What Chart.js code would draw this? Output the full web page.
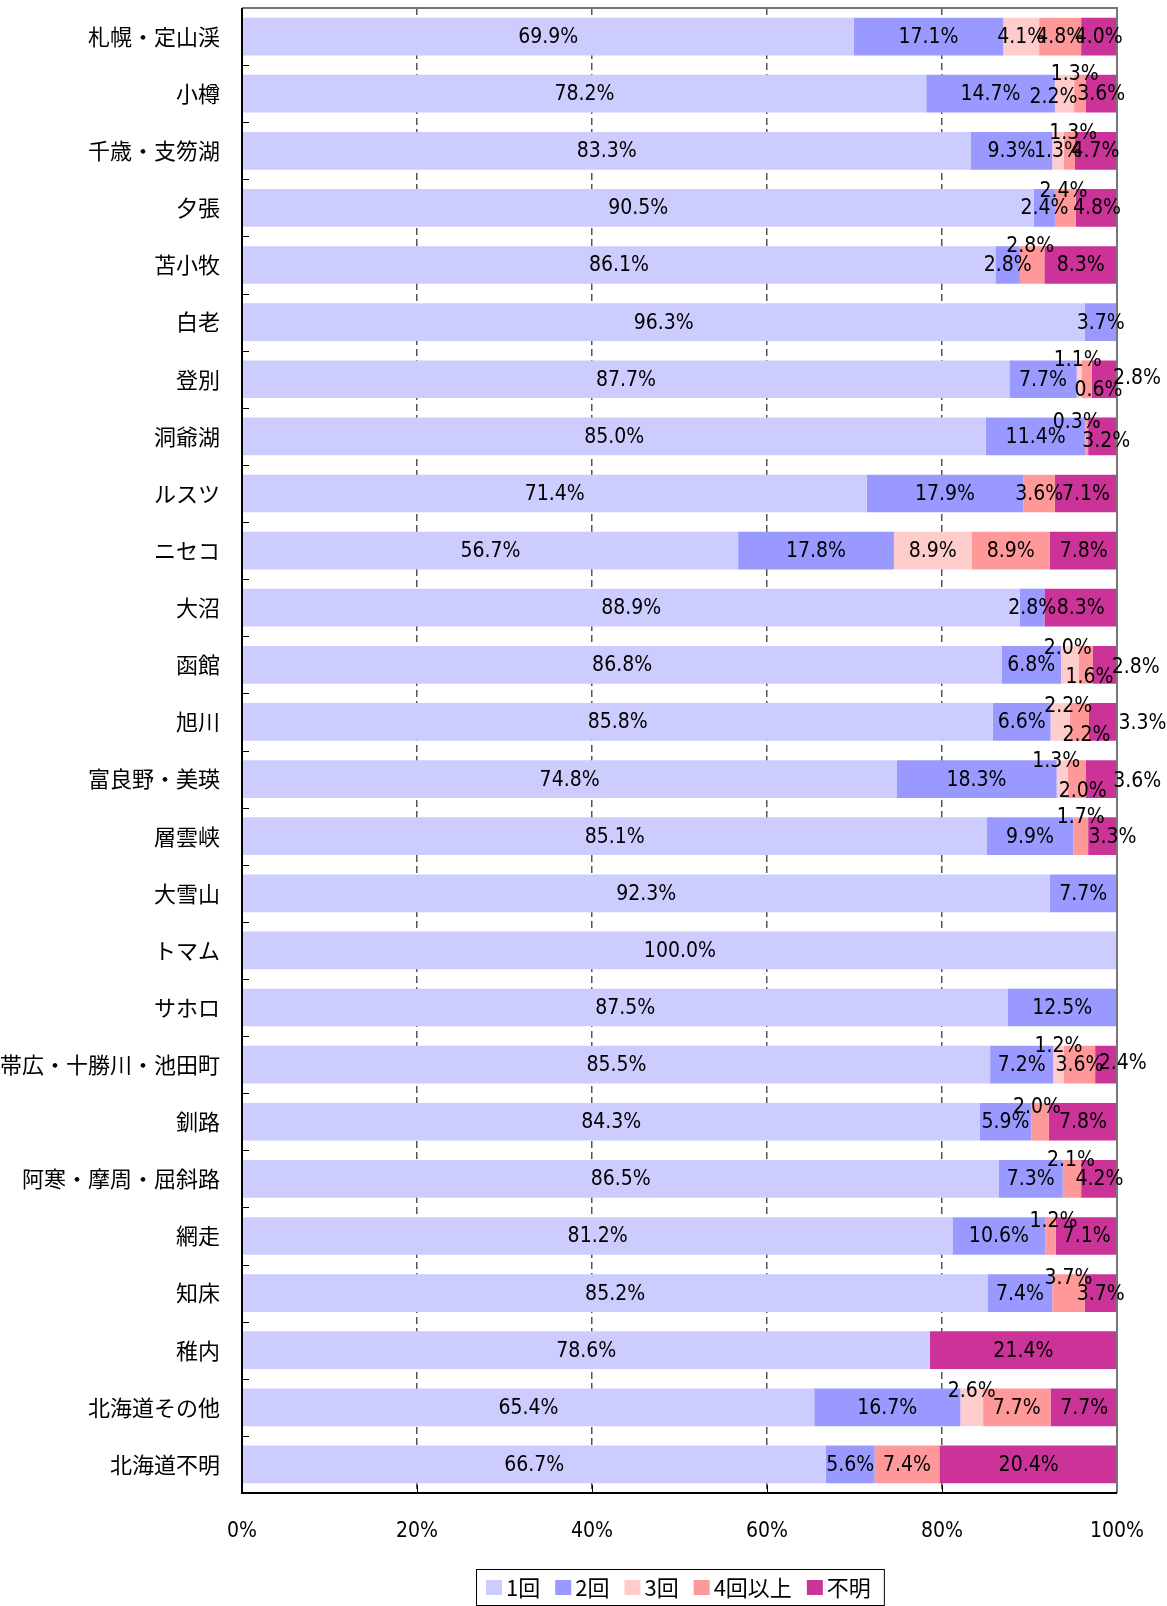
<!DOCTYPE html>
<html>
<head>
<meta charset="utf-8">
<script src="https://cdn.jsdelivr.net/npm/chart.js@4.4.1/dist/chart.umd.min.js"></script>
<style>
  body { margin: 0; background: #fff; }
  canvas { display: block; }
</style>
</head>
<body>
<canvas id="chart" width="1167" height="1606"></canvas>
<script>
const areas = ['札幌・定山渓', '小樽', '千歳・支笏湖', '夕張', '苫小牧', '白老', '登別', '洞爺湖', 'ルスツ', 'ニセコ',
  '大沼', '函館', '旭川', '富良野・美瑛', '層雲峡', '大雪山', 'トマム', 'サホロ', '帯広・十勝川・池田町', '釧路',
  '阿寒・摩周・屈斜路', '網走', '知床', '稚内', '北海道その他', '北海道不明']

const once = [69.9, 78.2, 83.3, 90.5, 86.1, 96.3, 87.7, 85.0, 71.4, 56.7, 88.9, 86.8, 85.8, 74.8, 85.1, 92.3, 100.0, 87.5, 85.5, 84.3, 86.5, 81.2, 85.2, 78.6, 65.4, 66.7]
const twice = [17.1, 14.7, 9.3, 2.4, 2.8, 3.7, 7.7, 11.4, 17.9, 17.8, 2.8, 6.8, 6.6, 18.3, 9.9, 7.7, 0, 12.5, 7.2, 5.9, 7.3, 10.6, 7.4, 0, 16.7, 5.6]
const three = [4.1, 2.2, 1.3, 0, 0, 0, 0.6, 0, 0, 8.9, 0, 2.0, 2.2, 1.3, 0, 0, 0, 0, 1.2, 0, 0, 0, 0, 0, 2.6, 0]
const fourPlus = [4.8, 1.3, 1.3, 2.4, 2.8, 0, 1.1, 0.3, 3.6, 8.9, 0, 1.6, 2.2, 2.0, 1.7, 0, 0, 0, 3.6, 2.0, 2.1, 1.2, 3.7, 0, 7.7, 7.4]
const unknown = [4.0, 3.6, 4.7, 4.8, 8.3, 0, 2.8, 3.2, 7.1, 7.8, 8.3, 2.8, 3.3, 3.6, 3.3, 0, 0, 0, 2.4, 7.8, 4.2, 7.1, 3.7, 21.4, 7.7, 20.4]

const seriesNames = ['1回', '2回', '3回', '4回以上', '不明']
const xTicks = [0, 20, 40, 60, 80, 100]

const colors = ['#CCCCFF', '#9999FF', '#FFCCCC', '#FF9999', '#CC3399']
const numFont = "21px 'Liberation Sans Narrow', 'DejaVu Sans Condensed', 'Noto Sans CJK JP', sans-serif"
const legendFont = "22px 'Liberation Sans Narrow', 'Noto Sans CJK JP', sans-serif"

// labels that were moved off their segment in the original (row:dataset -> dx, dy)
const labelShift = {
  '1:2': [-11, 3], '1:3': [-5, -20],
  '2:3': [4, -18],
  '3:3': [-2, -17],
  '4:3': [-2, -19],
  '6:2': [19, 10], '6:3': [-9, -20], '6:4': [33, -2],
  '7:3': [-10, -15], '7:4': [4, 4],
  '11:2': [-2, -17], '11:3': [4, 12], '11:4': [31, 2],
  '12:2': [8, -16], '12:3': [7, 13], '12:4': [39, 1],
  '13:2': [-6, -19], '13:3': [6, 11], '13:4': [36, 1],
  '14:3': [0, -20], '14:4': [10, 0],
  '18:2': [0, -19], '18:4': [17, -2],
  '19:3': [-3, -15],
  '20:3': [-1, -19],
  '21:3': [3, -15],
  '22:3': [0, -16],
  '24:2': [0, -17]
}

const frameAndLabels = {
  id: 'frameAndLabels',
  afterDatasetsDraw(chart) {
    const ctx = chart.ctx
    const a = chart.chartArea
    const x = chart.scales.x
    ctx.save()

    // small inside ticks between categories
    ctx.strokeStyle = '#000'
    ctx.lineWidth = 1
    const band = (a.bottom - a.top) / areas.length
    for (let i = 1; i < areas.length; i++) {
      const yy = Math.round(a.top + band * i) + 0.5
      ctx.beginPath(); ctx.moveTo(a.left, yy); ctx.lineTo(a.left + 7, yy); ctx.stroke()
    }
    xTicks.slice(1, -1).forEach(v => {
      const xx = Math.round(x.getPixelForValue(v)) + 0.5
      ctx.beginPath(); ctx.moveTo(xx, a.bottom); ctx.lineTo(xx, a.bottom - 8); ctx.stroke()
    })

    // frame
    ctx.lineWidth = 2
    ctx.strokeStyle = '#777'
    ctx.beginPath(); ctx.moveTo(a.left, a.top); ctx.lineTo(a.right, a.top); ctx.lineTo(a.right, a.bottom); ctx.stroke()
    ctx.strokeStyle = '#000'
    ctx.beginPath(); ctx.moveTo(a.left, a.top); ctx.lineTo(a.left, a.bottom); ctx.lineTo(a.right, a.bottom); ctx.stroke()

    // value labels
    ctx.font = numFont
    ctx.fillStyle = '#000'
    ctx.textAlign = 'center'
    ctx.textBaseline = 'middle'
    chart.data.datasets.forEach((ds, di) => {
      const meta = chart.getDatasetMeta(di)
      meta.data.forEach((bar, i) => {
        const v = ds.data[i]
        if (!v) return
        const shift = labelShift[i + ':' + di] || [0, 0]
        const cx = (bar.x + bar.base) / 2 + shift[0]
        ctx.fillText(v.toFixed(1) + '%', cx, bar.y + 1 + shift[1])
      })
    })

    ctx.restore()
  },
  afterDraw(chart) {
    // boxed legend centred under the plot
    const ctx = chart.ctx
    const a = chart.chartArea
    ctx.save()
    ctx.font = legendFont
    const sw = 16, gap = 4, spacing = 15, padL = 10, padR = 13
    const widths = seriesNames.map(n => sw + gap + ctx.measureText(n).width)
    const total = widths.reduce((s, w) => s + w, 0) + spacing * (seriesNames.length - 1) + padL + padR
    const left = Math.round((a.left + a.right) / 2 - total / 2)
    const top = 1569, h = 36
    ctx.strokeStyle = '#000'
    ctx.lineWidth = 1
    ctx.strokeRect(left + 0.5, top + 0.5, total, h)
    let cx = left + padL
    const cy = top + h / 2 + 1
    ctx.textAlign = 'left'
    ctx.textBaseline = 'middle'
    seriesNames.forEach((n, i) => {
      ctx.fillStyle = colors[i]
      ctx.fillRect(cx, cy - 8, sw, 15)
      ctx.fillStyle = '#000'
      ctx.fillText(n, cx + sw + gap, cy)
      cx += widths[i] + spacing
    })
    ctx.restore()
  }
}

const values = [once, twice, three, fourPlus, unknown]

new Chart(document.getElementById('chart'), {
  type: 'bar',
  data: {
    labels: areas,
    datasets: seriesNames.map((name, i) => ({
      label: name,
      data: values[i],
      backgroundColor: colors[i],
      borderWidth: 0,
      barPercentage: 0.66,
      categoryPercentage: 1
    }))
  },
  options: {
    indexAxis: 'y',
    responsive: false,
    animation: false,
    layout: { padding: { left: 0, right: 50, top: 8, bottom: 60 } },
    plugins: {
      legend: { display: false },
      tooltip: { enabled: false }
    },
    scales: {
      x: {
        stacked: true,
        min: 0,
        max: 100,
        afterFit: s => { s.height = 53; s.paddingLeft = 0; s.paddingRight = 0 },
        afterBuildTicks: s => { s.ticks = xTicks.map(v => ({ value: v })) },
        ticks: {
          padding: 26,
          color: '#000',
          font: { family: "'Liberation Sans Narrow', 'DejaVu Sans Condensed', sans-serif", size: 21 },
          callback: v => v + '%'
        },
        grid: {
          drawTicks: false,
          lineWidth: 1.5,
          color: c => (c.tick && (c.tick.value === 0 || c.tick.value === 100)) ? 'rgba(0,0,0,0)' : '#555'
        },
        border: { display: false, dash: [7, 4] }
      },
      y: {
        stacked: true,
        afterFit: s => { s.width = 242; s.paddingTop = 0; s.paddingBottom = 0 },
        ticks: {
          padding: 22,
          color: '#000',
          autoSkip: false,
          font: { family: "'Noto Sans CJK JP', sans-serif", size: 22 }
        },
        grid: { display: false, drawTicks: false },
        border: { display: false }
      }
    }
  },
  plugins: [frameAndLabels]
})
</script>
</body>
</html>
